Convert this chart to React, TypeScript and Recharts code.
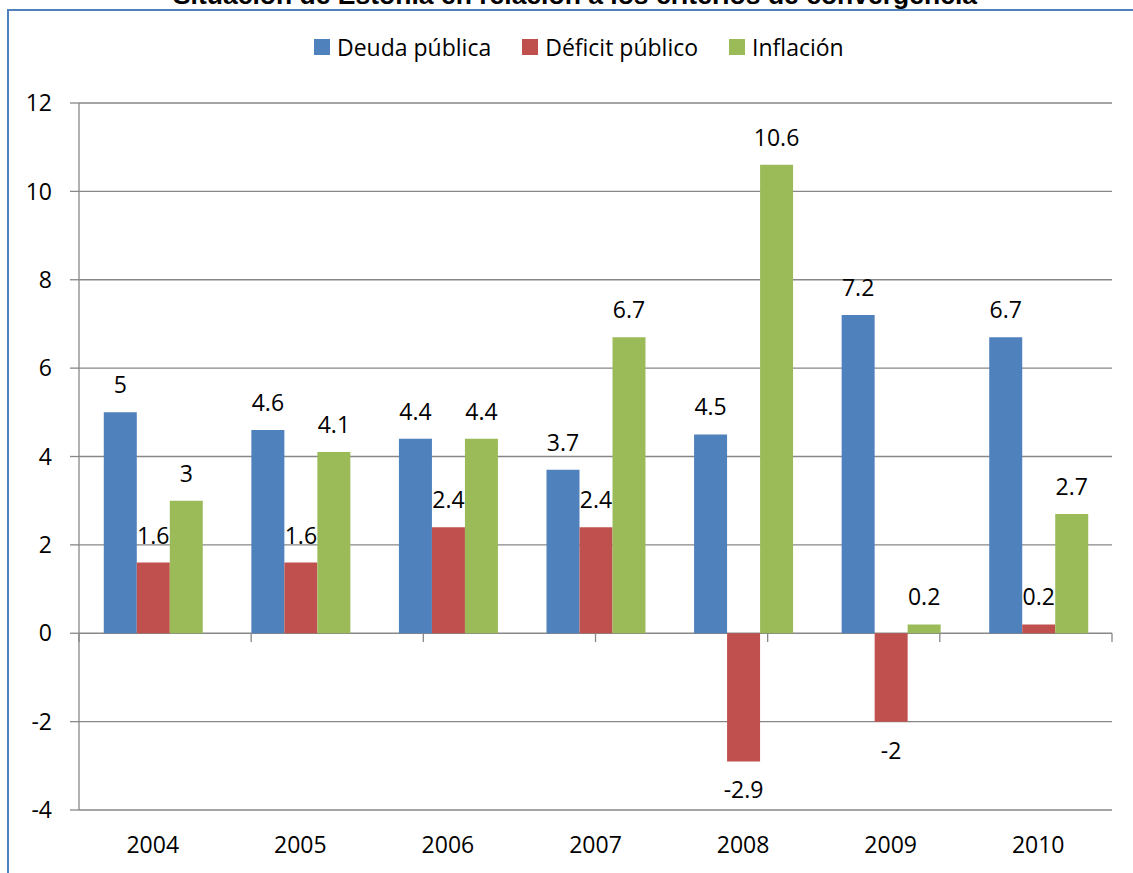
import React from 'react';
import { BarChart, Bar, XAxis, YAxis, CartesianGrid, ReferenceLine, LabelList } from 'recharts';

// Categories and series values
const years = ['2004', '2005', '2006', '2007', '2008', '2009', '2010'];
const deudaPublica = [5, 4.6, 4.4, 3.7, 4.5, 7.2, 6.7];
const deficitPublico = [1.6, 1.6, 2.4, 2.4, -2.9, -2, 0.2];
const inflacion = [3, 4.1, 4.4, 6.7, 10.6, 0.2, 2.7];
const yTicks = [-4, -2, 0, 2, 4, 6, 8, 10, 12];

const title = 'Situación de Estonia en relación a los criterios de convergencia';

const series = [
  { key: 'deuda', name: 'Deuda pública', color: '#4F81BD', values: deudaPublica },
  { key: 'deficit', name: 'Déficit público', color: '#C0504D', values: deficitPublico },
  { key: 'inflacion', name: 'Inflación', color: '#9BBB59', values: inflacion },
];

const data = years.map((year, i) => {
  const row: Record<string, string | number> = { year };
  series.forEach((s) => {
    row[s.key] = s.values[i];
  });
  return row;
});

// Category boundaries (0..n) for the tick marks on the zero line
const boundaries = Array.from({ length: years.length + 1 }, (_, i) => i);

const FONT = '"Open Sans", "Noto Sans", sans-serif';
const FS = 23;
const GRID = '#878787';
const W = 1133;
const H = 873;

const ValueLabel = (props: any) => {
  const { x, y, width, height, value } = props;
  const top = Math.min(y, y + height);
  const bottom = Math.max(y, y + height);
  const baseline = value < 0 ? bottom + 37 : top - 19;
  return (
    <text x={x + width / 2} y={baseline} textAnchor="middle" fontFamily={FONT} fontSize={FS} fill="#000">
      {String(value)}
    </text>
  );
};

const YearTick = (props: any) => {
  const { x, y, payload } = props;
  return (
    <text x={x} y={y + 43} textAnchor="middle" fontFamily={FONT} fontSize={FS} fill="#000">
      {payload.value}
    </text>
  );
};

export default function App() {
  return (
    <div
      style={{
        position: 'fixed',
        left: 0,
        top: 0,
        width: W,
        height: H,
        overflow: 'hidden',
        background: '#fff',
        fontFamily: FONT,
      }}
    >
      {/* chart frame */}
      <div
        style={{
          position: 'absolute',
          left: 7,
          top: 9,
          width: W + 20,
          height: H + 20,
          borderTop: '2px solid #4F81BD',
          borderLeft: '2px solid #4F81BD',
        }}
      />
      <svg width={W} height={20} style={{ position: 'absolute', left: 0, top: 0 }}>
        <text
          x={575}
          y={4}
          textAnchor="middle"
          fontFamily='"Liberation Sans", Arial, sans-serif'
          fontWeight="bold"
          fontSize={26.5}
          fill="#000"
        >
          {title}
        </text>
      </svg>
      {/* legend */}
      <div
        style={{
          position: 'absolute',
          top: 32,
          left: 314,
          height: 30,
          display: 'flex',
          alignItems: 'center',
          fontSize: FS,
          lineHeight: '30px',
          color: '#000',
          whiteSpace: 'nowrap',
        }}
      >
        {series.map((s) => (
          <div key={s.key} style={{ display: 'flex', alignItems: 'center', marginRight: 31 }}>
            <span style={{ display: 'inline-block', width: 16, height: 16, background: s.color, marginRight: 7 }} />
            <span>{s.name}</span>
          </div>
        ))}
      </div>
      <div style={{ position: 'absolute', left: 0, top: 0 }}>
        <BarChart
          width={W}
          height={H}
          data={data}
          margin={{ top: 103, right: 21, bottom: 0, left: 0 }}
          barCategoryGap="16.8%"
          barGap={0}
        >
          <CartesianGrid vertical={false} stroke={GRID} strokeWidth={1.3} />
          <XAxis
            dataKey="year"
            height={63}
            axisLine={false}
            tickLine={false}
            tickSize={0}
            tickMargin={0}
            interval={0}
            tick={<YearTick />}
          />
          <XAxis xAxisId="edge" type="number" domain={[0, years.length]} hide allowDataOverflow />
          <YAxis
            domain={[-4, 12]}
            ticks={yTicks}
            interval={0}
            width={79}
            allowDataOverflow
            axisLine={{ stroke: GRID, strokeWidth: 1.3 }}
            tickLine={{ stroke: GRID, strokeWidth: 1.3 }}
            tickSize={9}
            tickMargin={18}
            tick={{ fill: '#000', fontSize: FS, fontFamily: FONT }}
          />
          {boundaries.map((b) => (
            <ReferenceLine
              key={b}
              xAxisId="edge"
              segment={[
                { x: b, y: 0 },
                { x: b, y: -0.2 },
              ]}
              stroke={GRID}
              strokeWidth={1.3}
            />
          ))}
          {series.map((s) => (
            <Bar key={s.key} dataKey={s.key} name={s.name} fill={s.color} isAnimationActive={false}>
              <LabelList dataKey={s.key} content={<ValueLabel />} />
            </Bar>
          ))}
        </BarChart>
      </div>
    </div>
  );
}
